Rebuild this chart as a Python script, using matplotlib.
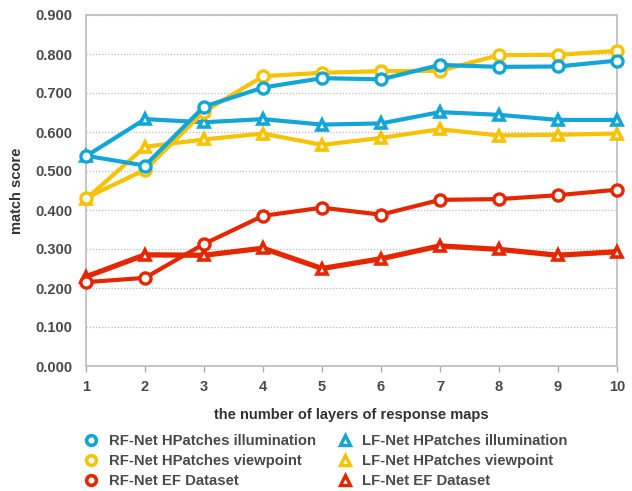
import matplotlib
matplotlib.use("Agg")
import matplotlib.pyplot as plt
from matplotlib.lines import Line2D

plt.rcParams['font.family'] = ['Liberation Sans', 'DejaVu Sans']
plt.rcParams['font.weight'] = 'bold'

layers = [1, 2, 3, 4, 5, 6, 7, 8, 9, 10]
rf_illum = [0.539, 0.514, 0.665, 0.714, 0.738, 0.735, 0.772, 0.767, 0.768, 0.783]
rf_view = [0.431, 0.503, 0.652, 0.743, 0.752, 0.756, 0.757, 0.797, 0.798, 0.808]
rf_ef = [0.215, 0.226, 0.313, 0.385, 0.406, 0.388, 0.426, 0.428, 0.438, 0.452]
lf_illum = [0.538, 0.633, 0.625, 0.633, 0.619, 0.622, 0.651, 0.644, 0.631, 0.631]
lf_view = [0.428, 0.562, 0.581, 0.596, 0.567, 0.585, 0.607, 0.591, 0.593, 0.596]
lf_ef = [0.229, 0.285, 0.284, 0.302, 0.250, 0.275, 0.308, 0.299, 0.284, 0.293]

labels_rf = ['RF-Net HPatches illumination', 'RF-Net HPatches viewpoint', 'RF-Net EF Dataset']
labels_lf = ['LF-Net HPatches illumination', 'LF-Net HPatches viewpoint', 'LF-Net EF Dataset']
yticks = [0.0, 0.1, 0.2, 0.3, 0.4, 0.5, 0.6, 0.7, 0.8, 0.9]

BLUE = '#12A6D8'
YELLOW = '#F7C200'
RED = '#E52700'
TXT = '#4a4a4a'

fig = plt.figure(figsize=(6.32, 4.91), dpi=100)
ax = fig.add_axes([86/632, 1-366/491, (617-86)/632, (366-15)/491])

# LF-Net (triangles) drawn first
for vals, c, w in [(lf_view, YELLOW, 3.0), (lf_illum, BLUE, 3.0), (lf_ef, RED, 3.8)]:
    ax.plot(layers, vals, color=c, lw=w, marker='^', ms=7, mfc='white',
            mec=c, mew=2.6, zorder=3, clip_on=False)
for vals, c in [(rf_view, YELLOW), (rf_illum, BLUE), (rf_ef, RED)]:
    ax.plot(layers, vals, color=c, lw=3.0, marker='o', ms=8, mfc='white',
            mec=c, mew=2.4, zorder=4, clip_on=False)

ax.set_xlim(1, 10)
ax.set_ylim(0, 0.9)
ax.set_xticks(layers)
ax.set_yticks(yticks)
ax.set_yticklabels([f'{v:.3f}' for v in yticks])
ax.tick_params(axis='y', length=0, pad=10, labelsize=10.5, labelcolor=TXT)
ax.tick_params(axis='x', length=4, width=1, color='#aaaaaa', pad=6, labelsize=10.5, labelcolor=TXT, direction='out')
ax.yaxis.grid(True, linestyle=(0, (1, 1.5)), color='#bbbbbb', lw=0.9)
ax.set_axisbelow(True)
for s in ax.spines.values():
    s.set_color('#c4c4c4')
    s.set_linewidth(1.4)

ax.set_ylabel('match score', fontsize=10.5, fontweight='bold', color='#333333', labelpad=8)
ax.set_xlabel('the number of layers of response maps', fontsize=10.5, fontweight='bold',
              color='#333333', labelpad=10)

handles = []
for c, lab in zip([BLUE, YELLOW, RED], labels_rf):
    handles.append(Line2D([], [], ls='none', marker='o', ms=7, mfc='white', mec=c, mew=2.6, label=lab))
for c, lab in zip([BLUE, YELLOW, RED], labels_lf):
    handles.append(Line2D([], [], ls='none', marker='^', ms=7, mfc='white', mec=c, mew=2.4, label=lab))
fig.legend(handles=handles, ncol=2, loc='upper left', bbox_to_anchor=(87/632, 1-434/491),
           frameon=False, fontsize=10.7, labelcolor=TXT, handlelength=0.6, handletextpad=0.9,
           columnspacing=1.6, labelspacing=0.42, borderpad=0, borderaxespad=0)

fig.savefig('out.png', dpi=100)
